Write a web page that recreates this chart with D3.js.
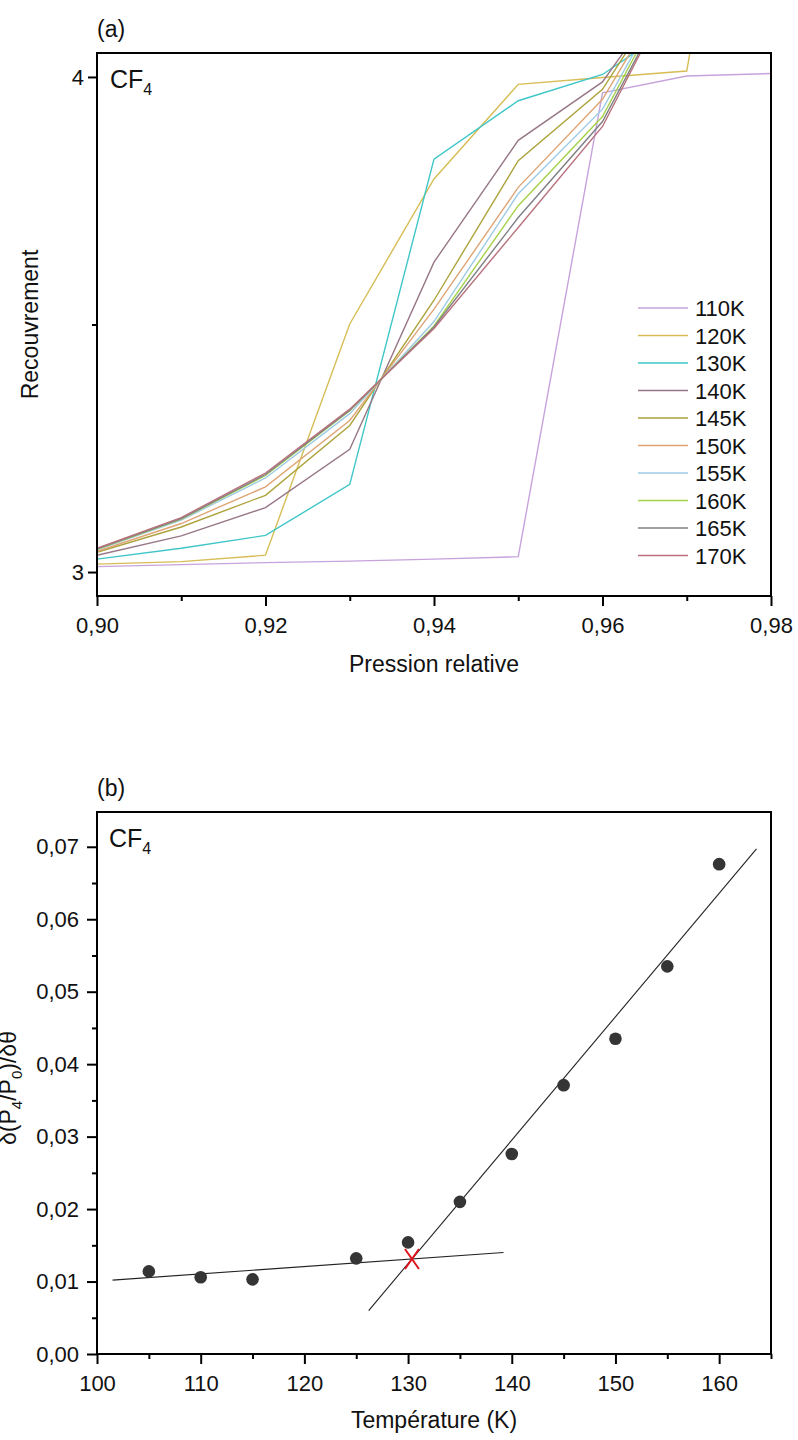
<!DOCTYPE html>
<html>
<head>
<meta charset="utf-8">
<script src="https://cdn.jsdelivr.net/npm/d3@7"></script>
<style>
  body { margin: 0; background: #fff; }
  svg { display: block; font-family: "Liberation Sans", Arial, sans-serif; }
</style>
</head>
<body>
<svg id="chart" width="798" height="1440"></svg>
<script>
// ---------- Panel (a): coverage vs relative pressure ----------
const pressures = [0.90, 0.91, 0.92, 0.93, 0.94, 0.95, 0.96, 0.97, 0.98];
const isothermLabels = ["110K", "120K", "130K", "140K", "145K", "150K", "155K", "160K", "165K", "170K"];
const isothermColors = ["#c7a3dc", "#d6bd55", "#3fc6c8", "#977787", "#ada33c", "#dea577", "#9dcbe3", "#a6d24b", "#7f7f86", "#b8717c"];
const cov110 = [3.011, 3.015, 3.019, 3.022, 3.026, 3.031, 3.968, 4.002, 4.007];
const cov120 = [3.016, 3.021, 3.034, 3.501, 3.794, 3.985, 3.999, 4.012, 5.0];
const cov130 = [3.026, 3.048, 3.074, 3.177, 3.834, 3.952, 4.005, 4.120];
const cov140 = [3.034, 3.073, 3.130, 3.248, 3.626, 3.872, 3.990, 4.230];
const cov145 = [3.040, 3.091, 3.155, 3.296, 3.549, 3.831, 3.975, 4.240];
const cov150 = [3.042, 3.098, 3.172, 3.306, 3.531, 3.777, 3.955, 4.240];
const cov155 = [3.045, 3.105, 3.190, 3.320, 3.506, 3.764, 3.935, 4.240];
const cov160 = [3.046, 3.107, 3.195, 3.326, 3.497, 3.740, 3.920, 4.240];
const cov165 = [3.047, 3.108, 3.197, 3.327, 3.495, 3.716, 3.910, 4.230];
const cov170 = [3.048, 3.110, 3.200, 3.329, 3.492, 3.696, 3.900, 4.230];
const coverageSeries = [cov110, cov120, cov130, cov140, cov145, cov150, cov155, cov160, cov165, cov170];
const pressureTicks = [0.90, 0.92, 0.94, 0.96, 0.98];
const pressureMinor = [0.91, 0.93, 0.95, 0.97];
const coverageTicks = [3, 4];
const coverageMinor = [3.5];

// ---------- Panel (b): derivative vs temperature ----------
const temperatures = [105, 110, 115, 125, 130, 135, 140, 145, 150, 155, 160];
const derivative = [0.0114, 0.0106, 0.0103, 0.0132, 0.0154, 0.0210, 0.0276, 0.0371, 0.0435, 0.0535, 0.0676];
const lowFitT = [101.5, 139.2];
const lowFitV = [0.0102, 0.0140];
const highFitT = [126.2, 163.6];
const highFitV = [0.0060, 0.0697];
const tempTicks = [100, 110, 120, 130, 140, 150, 160];
const tempMinor = [105, 115, 125, 135, 145, 155, 165];
const derivTicks = [0, 0.01, 0.02, 0.03, 0.04, 0.05, 0.06, 0.07];
const derivMinor = [0.005, 0.015, 0.025, 0.035, 0.045, 0.055, 0.065];

const svg = d3.select("#chart");
const comma = f => s => d3.format(f)(s).replace(".", ",");
const FS = 22;

function frame(g, x0, x1, y0, y1) {
  g.append("rect").attr("x", x0).attr("y", y0).attr("width", x1 - x0).attr("height", y1 - y0)
    .attr("fill", "none").attr("stroke", "#000").attr("stroke-width", 2);
}

function drawAxes(g, x, y, opt) {
  const y0 = y.range()[0];
  const x0 = x.range()[0];
  const axes = [
    g.append("g").attr("transform", `translate(0,${y0})`)
      .call(d3.axisBottom(x).tickValues(opt.xt).tickSize(10).tickPadding(11).tickFormat(opt.xfmt)),
    g.append("g").attr("transform", `translate(0,${y0})`)
      .call(d3.axisBottom(x).tickValues(opt.xm).tickSize(5).tickFormat("")),
    g.append("g").attr("transform", `translate(${x0},0)`)
      .call(d3.axisLeft(y).tickValues(opt.yt).tickSize(opt.yTick).tickPadding(opt.yPad).tickFormat(opt.yfmt)),
    g.append("g").attr("transform", `translate(${x0},0)`)
      .call(d3.axisLeft(y).tickValues(opt.ym).tickSize(5).tickFormat(""))
  ];
  axes.forEach(a => {
    a.select(".domain").remove();
    a.selectAll("line").attr("stroke", "#000").attr("stroke-width", 2);
    a.selectAll("text").attr("font-size", FS).attr("fill", "#111")
      .attr("font-family", "'Liberation Sans', Arial, sans-serif");
  });
}

// ===== Panel (a) =====
{
  const L = 97, R = 771, T = 53, B = 596;
  const x = d3.scaleLinear().domain([0.90, 0.98]).range([L, R]);
  const y = d3.scaleLinear().domain([2.9516, 4.0484]).range([B, T]);
  const g = svg.append("g");

  svg.append("defs").append("clipPath").attr("id", "clipA")
    .append("rect").attr("x", L).attr("y", T).attr("width", R - L).attr("height", B - T);

  const line = d3.line().x((d, i) => x(pressures[i])).y(d => y(d));
  g.append("g").attr("clip-path", "url(#clipA)")
    .selectAll("path").data(coverageSeries).join("path")
    .attr("d", d => line(d))
    .attr("fill", "none")
    .attr("stroke", (d, i) => isothermColors[i])
    .attr("stroke-width", 1.4);

  drawAxes(g, x, y, {
    xt: pressureTicks, xm: pressureMinor, yt: coverageTicks, ym: coverageMinor,
    xfmt: comma(".2f"), yfmt: d3.format("d"), yTick: 9, yPad: 4
  });
  frame(g, L, R, T, B);

  // legend
  const lg = g.append("g");
  isothermLabels.forEach((lab, i) => {
    const cy = 308 + i * 27.5;
    lg.append("line").attr("x1", 638).attr("x2", 688).attr("y1", cy).attr("y2", cy)
      .attr("stroke", isothermColors[i]).attr("stroke-width", 1.6);
    lg.append("text").attr("x", 695).attr("y", cy + 8).attr("font-size", FS).attr("fill", "#111").text(lab);
  });

  g.append("text").attr("x", 97).attr("y", 37).attr("font-size", 23).attr("fill", "#111").text("(a)");
  const cf = g.append("text").attr("x", 110).attr("y", 88).attr("font-size", 25).attr("fill", "#111");
  cf.append("tspan").text("CF");
  cf.append("tspan").attr("font-size", 16).attr("dy", 7).text("4");

  g.append("text").attr("x", (L + R) / 2).attr("y", 672).attr("text-anchor", "middle")
    .attr("font-size", 23).attr("fill", "#111").text("Pression relative");
  g.append("text").attr("transform", `translate(38,${(T + B) / 2}) rotate(-90)`)
    .attr("text-anchor", "middle").attr("font-size", 23).attr("fill", "#111").text("Recouvrement");
}

// ===== Panel (b) =====
{
  const L = 97, R = 771, T = 812, B = 1354;
  const x = d3.scaleLinear().domain([100, 165]).range([L, R]);
  const y = d3.scaleLinear().domain([0, 0.0748]).range([B, T]);
  const g = svg.append("g");

  // linear fits
  const fitLine = d3.line().x(d => x(d[0])).y(d => y(d[1]));
  const lowPts = lowFitT.map((t, i) => [t, lowFitV[i]]);
  const highPts = highFitT.map((t, i) => [t, highFitV[i]]);
  g.append("path").attr("d", fitLine(lowPts)).attr("fill", "none").attr("stroke", "#222").attr("stroke-width", 1.1);
  g.append("path").attr("d", fitLine(highPts)).attr("fill", "none").attr("stroke", "#222").attr("stroke-width", 1.1);

  // data points
  g.selectAll("circle").data(temperatures).join("circle")
    .attr("cx", d => x(d)).attr("cy", (d, i) => y(derivative[i])).attr("r", 6.3)
    .attr("fill", "#353535");

  // intersection of the two fits
  const s1 = (lowFitV[1] - lowFitV[0]) / (lowFitT[1] - lowFitT[0]);
  const s2 = (highFitV[1] - highFitV[0]) / (highFitT[1] - highFitT[0]);
  const tc = (highFitV[0] - s2 * highFitT[0] - lowFitV[0] + s1 * lowFitT[0]) / (s1 - s2);
  const vc = lowFitV[0] + s1 * (tc - lowFitT[0]);
  const cx = x(tc), cyy = y(vc);
  g.append("path")
    .attr("d", `M${cx - 7},${cyy - 10}L${cx + 7},${cyy + 10}M${cx + 7},${cyy - 10}L${cx - 7},${cyy + 10}`)
    .attr("stroke", "#e0141c").attr("stroke-width", 2).attr("fill", "none");

  drawAxes(g, x, y, {
    xt: tempTicks, xm: tempMinor, yt: derivTicks, ym: derivMinor,
    xfmt: d3.format("d"), yfmt: comma(".2f"), yTick: 10, yPad: 8
  });
  frame(g, L, R, T, B);

  g.append("text").attr("x", 97).attr("y", 796).attr("font-size", 23).attr("fill", "#111").text("(b)");
  const cf = g.append("text").attr("x", 109).attr("y", 847).attr("font-size", 25).attr("fill", "#111");
  cf.append("tspan").text("CF");
  cf.append("tspan").attr("font-size", 16).attr("dy", 7).text("4");

  g.append("text").attr("x", (L + R) / 2).attr("y", 1428).attr("text-anchor", "middle")
    .attr("font-size", 23).attr("fill", "#111").text("Température (K)");

  const yl = g.append("text").attr("transform", `translate(16,${(T + B) / 2 + 5}) rotate(-90)`)
    .attr("text-anchor", "middle").attr("font-size", 23).attr("fill", "#111");
  yl.append("tspan").text("δ(P");
  yl.append("tspan").attr("font-size", 15).attr("dy", 6).text("4");
  yl.append("tspan").attr("dy", -6).text("/P");
  yl.append("tspan").attr("font-size", 15).attr("dy", 6).text("0");
  yl.append("tspan").attr("dy", -6).text(")/δθ");
}
</script>
</body>
</html>
